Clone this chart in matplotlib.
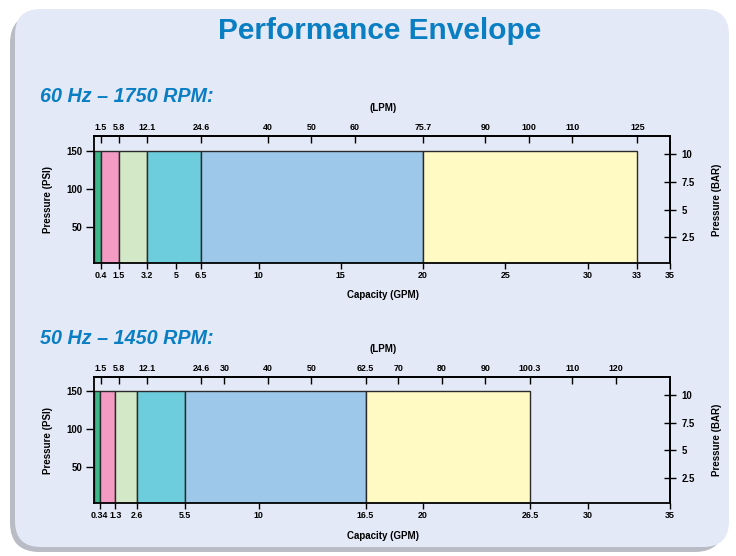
import matplotlib
matplotlib.use("Agg")
import matplotlib.pyplot as plt
from matplotlib.patches import FancyBboxPatch, Rectangle
from matplotlib import font_manager

# ---------------- data ----------------
seg_colors = ["#3DB88A", "#F49BC4", "#D3E8C6", "#6DCDDC", "#9EC8E9", "#FFF9C4"]

edges_60 = [0, 0.4, 1.5, 3.2, 6.5, 20, 33]          # GPM boundaries
height_60 = 150                                      # PSI
gpm_ticks_60 = [0.4, 1.5, 3.2, 5, 6.5, 10, 15, 20, 25, 30, 33, 35]
gpm_labels_60 = ["0.4", "1.5", "3.2", "5", "6.5", "10", "15", "20", "25", "30", "33", "35"]
lpm_ticks_60 = [1.5, 5.8, 12.1, 24.6, 40, 50, 60, 75.7, 90, 100, 110, 125]
lpm_labels_60 = ["1.5", "5.8", "12.1", "24.6", "40", "50", "60", "75.7", "90", "100", "110", "125"]

edges_50 = [0, 0.34, 1.3, 2.6, 5.5, 16.5, 26.5]
height_50 = 150
gpm_ticks_50 = [0.34, 1.3, 2.6, 5.5, 10, 16.5, 20, 26.5, 30, 35]
gpm_labels_50 = ["0.34", "1.3", "2.6", "5.5", "10", "16.5", "20", "26.5", "30", "35"]
lpm_ticks_50 = [1.5, 5.8, 12.1, 24.6, 30, 40, 50, 62.5, 70, 80, 90, 100.3, 110, 120]
lpm_labels_50 = ["1.5", "5.8", "12.1", "24.6", "30", "40", "50", "62.5", "70", "80", "90", "100.3", "110", "120"]

psi_ticks = [50, 100, 150]
bar_ticks = [2.5, 5, 7.5, 10]
bar_labels = ["2.5", "5", "7.5", "10"]

LPM_PER_GPM = 3.785
PSI_PER_BAR = 14.5038

# ---------------- fonts ----------------
names = {f.name for f in font_manager.fontManager.ttflist}
wide = "Liberation Sans" if "Liberation Sans" in names else "DejaVu Sans"
narrow = wide

BLUE = "#0A7EC3"
BG = "#E4E9F7"

fig = plt.figure(figsize=(7.36, 5.56), dpi=100)
fig.patch.set_facecolor("white")

W, H = 736, 556
def fx(x): return x / W
def fy(y): return 1 - y / H

# shadow + panel
shadow = FancyBboxPatch((fx(10), fy(552)), fx(724) - fx(10), fy(14) - fy(552),
                        boxstyle="round,pad=0,rounding_size=0.04",
                        transform=fig.transFigure, facecolor="#B9BCC4", edgecolor="none",
                        zorder=-2, mutation_aspect=W / H)
fig.patches.append(shadow)
panel = FancyBboxPatch((fx(15), fy(547)), fx(729) - fx(15), fy(9) - fy(547),
                       boxstyle="round,pad=0,rounding_size=0.035",
                       transform=fig.transFigure, facecolor=BG, edgecolor="none",
                       zorder=-1, mutation_aspect=W / H)
fig.patches.append(panel)

fig.text(fx(380), fy(31), "Performance Envelope", ha="center", va="center",
         fontsize=21.5, fontweight="bold", color=BLUE, family=narrow)

tick_fs = 6.4
lab_fs = 7.0


def make_panel(top_px, bot_px, edges, h, gticks, glabels, lticks, llabels, subtitle, sub_y, lpm_y, cap_y):
    ax = fig.add_axes([fx(94), fy(bot_px), fx(670) - fx(94), (bot_px - top_px) / H])
    ax.set_zorder(2)
    ax.set_facecolor("none")
    for i in range(len(edges) - 1):
        ax.add_patch(Rectangle((edges[i], 0), edges[i + 1] - edges[i], h,
                               facecolor=seg_colors[i], edgecolor="#2A2A2A", linewidth=1.0, zorder=2))
    ax.set_xlim(0, 35)
    ax.set_ylim(2.8, 169)
    for s in ax.spines.values():
        s.set_linewidth(1.3)
        s.set_zorder(5)
    ax.set_xticks(gticks)
    ax.set_xticklabels(glabels, fontsize=tick_fs, fontweight="bold", family=narrow)
    ax.set_yticks(psi_ticks)
    ax.set_yticklabels([str(v) for v in psi_ticks], fontsize=6.9, fontweight="bold", family=narrow)
    ax.tick_params(axis="x", direction="out", length=4, width=1.0, pad=2)
    ax.tick_params(axis="y", direction="out", length=6, width=1.0, pad=2)

    top = ax.secondary_xaxis("top", functions=(lambda g: g * LPM_PER_GPM, lambda l: l / LPM_PER_GPM))
    top.set_xticks(lticks)
    top.set_xticklabels(llabels, fontsize=tick_fs, fontweight="bold", family=narrow)
    top.tick_params(direction="in", length=5, width=1.0, pad=3)
    top.spines["top"].set_linewidth(1.3)

    right = ax.secondary_yaxis("right", functions=(lambda p: p / PSI_PER_BAR, lambda b: b * PSI_PER_BAR))
    right.set_yticks(bar_ticks)
    right.set_yticklabels(bar_labels, fontsize=6.9, fontweight="bold", family=narrow)
    right.tick_params(direction="inout", length=9, width=1.0, pad=4)
    right.spines["right"].set_linewidth(1.3)

    fig.text(fx(40), fy(sub_y), subtitle, ha="left", va="center", fontsize=14.2,
             fontweight="bold", fontstyle="italic", color=BLUE, family=wide)
    fig.text(fx(383), fy(lpm_y), "(LPM)", ha="center", va="center", fontsize=lab_fs,
             fontweight="bold", family=wide)
    fig.text(fx(383), fy(cap_y), "Capacity (GPM)", ha="center", va="center", fontsize=lab_fs,
             fontweight="bold", family=wide)
    yc = (top_px + bot_px) / 2
    fig.text(fx(48), fy(yc), "Pressure (PSI)", ha="center", va="center", rotation=90,
             fontsize=lab_fs, fontweight="bold", family=wide)
    fig.text(fx(717), fy(yc), "Pressure (BAR)", ha="center", va="center", rotation=90,
             fontsize=lab_fs, fontweight="bold", family=wide)
    return ax


make_panel(136, 263, edges_60, height_60, gpm_ticks_60, gpm_labels_60, lpm_ticks_60, lpm_labels_60,
           "60 Hz \u2013 1750 RPM:", 97, 108, 295)
make_panel(377, 503, edges_50, height_50, gpm_ticks_50, gpm_labels_50, lpm_ticks_50, lpm_labels_50,
           "50 Hz \u2013 1450 RPM:", 338, 349, 536)

fig.savefig("out.png", dpi=100, facecolor=fig.get_facecolor())
